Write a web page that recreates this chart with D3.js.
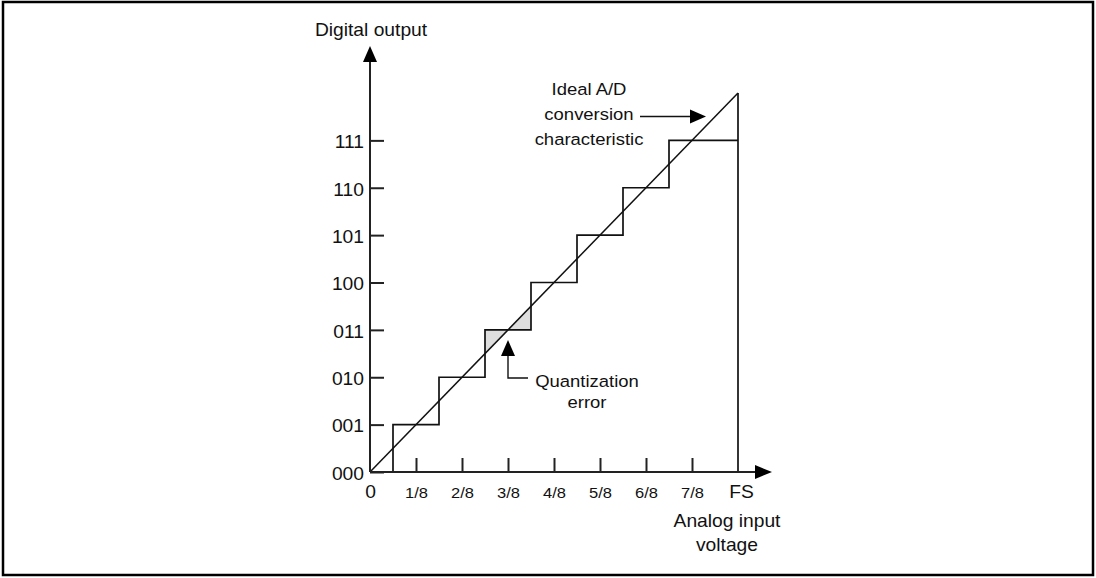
<!DOCTYPE html>
<html>
<head>
<meta charset="utf-8">
<script src="https://cdn.jsdelivr.net/npm/d3@7"></script>
<style>
  html, body { margin: 0; padding: 0; background: #fff; }
  svg { display: block; font-family: "Liberation Sans", Arial, sans-serif; }
</style>
</head>
<body>
<svg id="chart" width="1096" height="578"></svg>
<script>
// ---- data ----
const outputCodes = ["000", "001", "010", "011", "100", "101", "110", "111"];
const codeValues = [0, 1, 2, 3, 4, 5, 6, 7];
const inputTickLabels = ["0", "1/8", "2/8", "3/8", "4/8", "5/8", "6/8", "7/8", "FS"];
const inputTickValues = [0, 1, 2, 3, 4, 5, 6, 7, 8];
const transitionPoints = [0.5, 1.5, 2.5, 3.5, 4.5, 5.5, 6.5];
const outputLevels = [0, 1, 2, 3, 4, 5, 6, 7];
const fullScale = 8;
const idealLine = [[0, 0], [8, 8]];
const errorCode = 3;
const yAxisTitle = "Digital output";
const xAxisTitle = ["Analog input", "voltage"];
const idealLabel = ["Ideal A/D", "conversion", "characteristic"];
const errorLabel = ["Quantization", "error"];

// ---- layout ----
const svg = d3.select("#chart");
const x = d3.scaleLinear().domain([0, 8]).range([370, 738]);
const y = d3.scaleLinear().domain([0, 8]).range([472, 93]);
const ink = "#111";
const SX = 1.1; // horizontal text stretch

// frame
svg.append("rect").attr("x", 3).attr("y", 2).attr("width", 1090).attr("height", 573)
  .attr("fill", "none").attr("stroke", "#000").attr("stroke-width", 2.5);

// quantization error shading
const e = errorCode;
const tri1 = [[e - 0.5, e - 0.5], [e - 0.5, e], [e, e]];
const tri2 = [[e, e], [e + 0.5, e], [e + 0.5, e + 0.5]];
[tri1, tri2].forEach(t => {
  svg.append("path")
    .attr("d", d3.line().x(d => x(d[0])).y(d => y(d[1]))(t) + "Z")
    .attr("fill", "#dedede").attr("stroke", "none");
});

// staircase
const stair = [[0, outputLevels[0]]];
transitionPoints.forEach((t, i) => {
  stair.push([t, outputLevels[i]]);
  stair.push([t, outputLevels[i + 1]]);
});
stair.push([fullScale, outputLevels[outputLevels.length - 1]]);
svg.append("path")
  .attr("d", d3.line().x(d => x(d[0])).y(d => y(d[1]))(stair))
  .attr("fill", "none").attr("stroke", ink).attr("stroke-width", 1.7);

// FS vertical line
svg.append("line")
  .attr("x1", x(fullScale)).attr("x2", x(fullScale))
  .attr("y1", y(0)).attr("y2", y(fullScale))
  .attr("stroke", ink).attr("stroke-width", 1.7);

// ideal line
svg.append("path")
  .attr("d", d3.line().x(d => x(d[0])).y(d => y(d[1]))(idealLine))
  .attr("fill", "none").attr("stroke", ink).attr("stroke-width", 1.5);

// y axis ticks & labels
const yAxis = svg.append("g").attr("transform", `translate(${x(0)},0)`)
  .call(d3.axisLeft(y).tickValues(codeValues).tickFormat(i => outputCodes[i])
    .tickSize(-14).tickSizeOuter(0).tickPadding(0));
yAxis.select(".domain").remove();
yAxis.selectAll(".tick line").attr("stroke", "#222").attr("stroke-width", 2);
yAxis.selectAll(".tick text").attr("fill", ink).attr("font-size", 17.5)
  .attr("font-family", "Liberation Sans, Arial, sans-serif")
  .attr("x", 0).attr("dy", "0.42em")
  .attr("transform", `translate(-6,0) scale(${SX},1)`);

// x axis ticks & labels
const xAxis = svg.append("g").attr("transform", `translate(0,${y(0)})`)
  .call(d3.axisBottom(x).tickValues(inputTickValues).tickFormat(i => inputTickLabels[i])
    .tickSize(-14).tickSizeOuter(0).tickPadding(14));
xAxis.select(".domain").remove();
xAxis.selectAll(".tick line").attr("stroke", "#222").attr("stroke-width", 2)
  .attr("opacity", d => (d === 0 || d === fullScale) ? 0 : 1);
xAxis.selectAll(".tick text").attr("fill", ink)
  .attr("font-family", "Liberation Sans, Arial, sans-serif")
  .attr("font-size", d => (d === 0 || d === fullScale) ? 17.5 : 15)
  .attr("dy", d => (d === 0 || d === fullScale) ? "0.71em" : "0.8em")
  .attr("transform", d => `translate(${d === fullScale ? 3 : 0},0) scale(${SX},1)`);

// axis lines with arrowheads
svg.append("line").attr("x1", x(0)).attr("x2", x(0)).attr("y1", y(0)).attr("y2", 60)
  .attr("stroke", "#222").attr("stroke-width", 2);
svg.append("path").attr("d", `M${x(0)},46 L${x(0) - 7},62 L${x(0) + 7},62 Z`).attr("fill", "#000");
svg.append("line").attr("x1", x(0)).attr("x2", 757).attr("y1", y(0)).attr("y2", y(0))
  .attr("stroke", "#222").attr("stroke-width", 2);
svg.append("path").attr("d", `M772,${y(0)} L755,${y(0) - 7} L755,${y(0) + 7} Z`).attr("fill", "#000");

// titles
const txt = (xx, yy, s, size) => svg.append("text")
  .attr("transform", `translate(${xx},${yy}) scale(${SX},1)`)
  .attr("text-anchor", "middle").attr("font-size", size).attr("fill", ink).text(s);
txt(371, 36, yAxisTitle, 17.5);
txt(727, 527, xAxisTitle[0], 17.5);
txt(727, 551, xAxisTitle[1], 17.5);

// ideal annotation
idealLabel.forEach((s, i) => txt(589, 95 + i * 25, s, 16.8));
svg.append("line").attr("x1", 640).attr("x2", 692).attr("y1", 116.5).attr("y2", 116.5)
  .attr("stroke", ink).attr("stroke-width", 1.4);
svg.append("path").attr("d", "M706,116.5 L690,109.5 L690,123.5 Z").attr("fill", "#000");

// quantization annotation
errorLabel.forEach((s, i) => txt(587, 387 + i * 21, s, 16.8));
svg.append("path").attr("d", `M528,378 L${x(errorCode)},378 L${x(errorCode)},354`)
  .attr("fill", "none").attr("stroke", ink).attr("stroke-width", 1.4);
svg.append("path").attr("d", `M${x(errorCode)},340 L${x(errorCode) - 7},356 L${x(errorCode) + 7},356 Z`).attr("fill", "#000");
</script>
</body>
</html>
